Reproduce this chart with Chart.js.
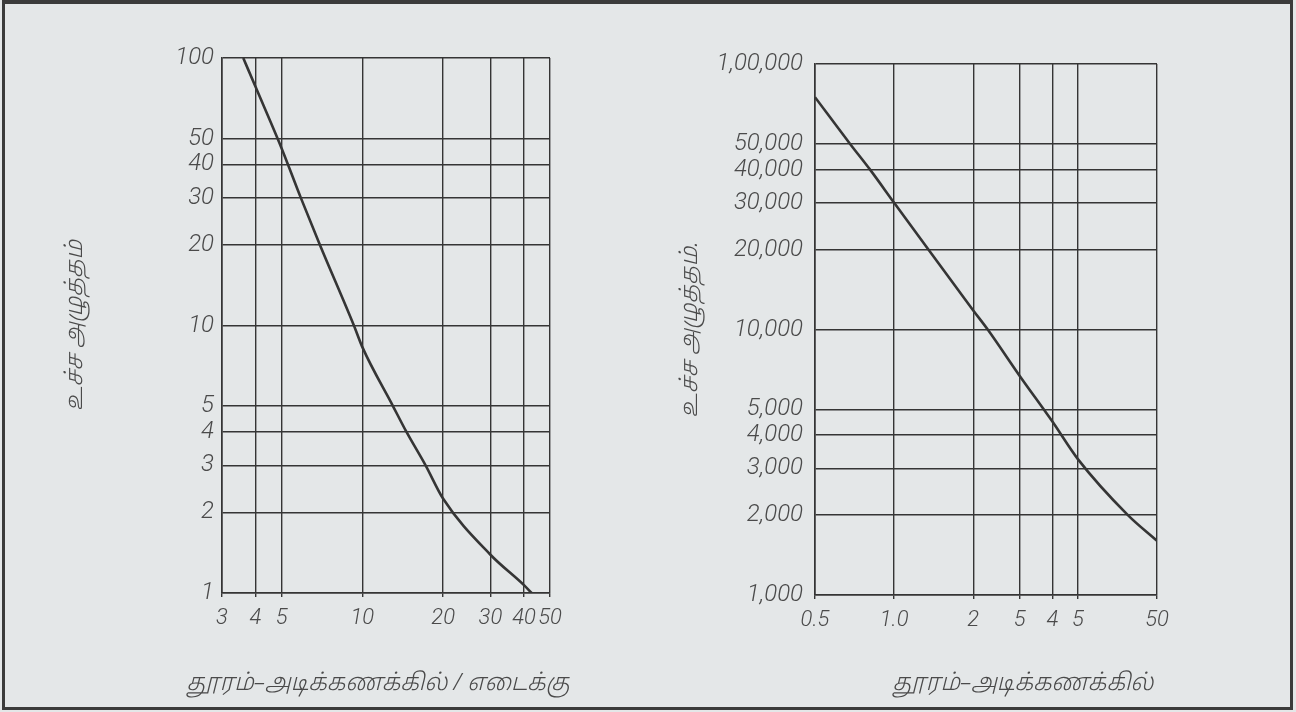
<!DOCTYPE html>
<html>
<head>
<meta charset="utf-8">
<script src="https://cdn.jsdelivr.net/npm/chart.js@4.4.1/dist/chart.umd.min.js"></script>
<style>
  html, body { margin: 0; padding: 0; }
  body { width: 1296px; height: 712px; background: #e4e7e8; position: relative; overflow: hidden; }
  #frame { position: absolute; left: 2px; top: 0; width: 1291px; height: 710px; box-sizing: border-box;
           border: 3px solid #3b3b3b; border-top-width: 4px; }
  canvas { position: absolute; top: 0; }
  #left { left: 0; }
  #right { left: 640px; }
</style>
</head>
<body>
<div id="frame"></div>
<canvas id="left" width="756" height="712"></canvas>
<canvas id="right" width="766" height="712"></canvas>
<script>
// Peak pressure against distance per unit charge (left panel)
const leftDist = [3.6, 4, 5, 5.9, 6.95, 9.3, 10, 13, 14.6, 17.2, 20, 30, 40, 42.7];
const leftPeak = [100, 78, 46, 30, 20, 10, 8.3, 5, 4, 3, 2.25, 1.39, 1.07, 1];
const leftXTicks = [3, 4, 5, 10, 20, 30, 40, 50];
const leftXLabels = ['3', '4', '5', '10', '20', '30', '40', '50'];
const leftYTicks = [1, 2, 3, 4, 5, 10, 20, 30, 40, 50, 100];
const leftYLabels = ['1', '2', '3', '4', '5', '10', '20', '30', '40', '50', '100'];

// Peak pressure against distance in feet (right panel)
const rightDist = [0.5, 0.68, 0.81, 1.0, 1.35, 2, 2.27, 3, 4, 5, 7.75, 10];
const rightPeak = [75000, 50000, 40000, 30000, 20000, 11800, 10000, 6700, 4500, 3250, 2000, 1600];
const rightXTicks = [0.5, 1, 2, 3, 4, 5, 10];
const rightXLabels = ['0.5', '1.0', '2', '5', '4', '5', '50'];
const rightYTicks = [1000, 2000, 3000, 4000, 5000, 10000, 20000, 30000, 40000, 50000, 100000];
const rightYLabels = ['1,000', '2,000', '3,000', '4,000', '5,000', '10,000', '20,000', '30,000', '40,000', '50,000', '1,00,000'];

const yTitle = 'உச்ச அழுத்தம்';
const yTitleRight = 'உச்ச அழுத்தம்.';
const xTitleLeft = 'தூரம்–அடிக்கணக்கில் / எடைக்கு';
const xTitleRight = 'தூரம்–அடிக்கணக்கில்';

const INK = '#353535';
const TEXT = '#4a4a4a';
const yTickFont = { family: "Roboto, 'Liberation Sans', sans-serif", size: 24, style: 'italic', weight: 300 };
const xTickFont = { family: "Roboto, 'Liberation Sans', sans-serif", size: 22, style: 'italic', weight: 300 };
const titleFont = { family: "'Noto Sans', 'Noto Sans Tamil', 'Liberation Sans', sans-serif", size: 23.5, style: 'italic', weight: 300, lineHeight: 1.2 };

function fixedTicks(values) {
  return scale => { scale.ticks = values.map(v => ({ value: v })); };
}

function panel(canvasId, p) {
  return new Chart(document.getElementById(canvasId), {
    type: 'line',
    data: {
      datasets: [{
        data: p.x.map((x, i) => ({ x, y: p.y[i] })),
        borderColor: INK,
        borderWidth: 2.6,
        pointRadius: 0,
        cubicInterpolationMode: 'monotone',
        fill: false
      }]
    },
    options: {
      responsive: false,
      animation: false,
      events: [],
      layout: { padding: { left: 0, top: p.top, right: 0, bottom: 0 } },
      plugins: {
        legend: { display: false },
        tooltip: { enabled: false },
        // distance caption under each panel, centred on the canvas
        title: {
          display: true, position: 'bottom', text: p.xTitle,
          color: TEXT, font: titleFont, padding: { top: 0, bottom: 15 }
        }
      },
      scales: {
        x: {
          type: 'logarithmic',
          min: p.xMin, max: p.xMax,
          afterBuildTicks: fixedTicks(p.xTicks),
          afterFit: s => { s.height = p.xAxisHeight; },
          grid: { color: INK, lineWidth: 1.4, drawTicks: true, tickLength: 4, tickColor: INK },
          border: { display: true, color: INK, width: 1.6 },
          ticks: {
            autoSkip: false, maxRotation: 0, padding: 8,
            color: TEXT, font: xTickFont,
            callback: (v, i) => p.xLabels[i]
          }
        },
        y: {
          type: 'logarithmic',
          min: p.yMin, max: p.yMax,
          afterBuildTicks: fixedTicks(p.yTicks),
          afterFit: s => { s.width = p.yAxisWidth; },
          grid: { color: INK, lineWidth: 1.4, drawTicks: false },
          border: { display: true, color: INK, width: 1.6 },
          ticks: {
            autoSkip: false, padding: p.yTickPad,
            color: TEXT, font: yTickFont,
            callback: (v, i) => p.yLabels[i]
          },
          title: {
            display: true, text: p.yTitle, color: TEXT, font: titleFont,
            padding: { top: p.yTitlePad, bottom: 0 }
          }
        },
        // empty margin on the right of the plot
        gutter: {
          type: 'linear', position: 'right', min: 0, max: 1,
          afterFit: s => { s.width = p.rightGutter; },
          grid: { display: false, drawOnChartArea: false },
          border: { display: false },
          ticks: { display: false }
        }
      }
    }
  });
}

// caption box: 15px padding + 23.5 * 1.2 line height = 43.2px at the bottom
panel('left', {
  x: leftDist, y: leftPeak,
  xMin: 3, xMax: 50, yMin: 1, yMax: 100,
  xTicks: leftXTicks, xLabels: leftXLabels,
  yTicks: leftYTicks, yLabels: leftYLabels,
  top: 58, rightGutter: 206,
  yAxisWidth: 222, xAxisHeight: 75.8,
  yTickPad: 8, yTitlePad: 61,
  xTitle: xTitleLeft,
  yTitle: yTitle
});

panel('right', {
  x: rightDist, y: rightPeak,
  xMin: 0.5, xMax: 10, yMin: 1000, yMax: 100000,
  xTicks: rightXTicks, xLabels: rightXLabels,
  yTicks: rightYTicks, yLabels: rightYLabels,
  top: 64, rightGutter: 249,
  yAxisWidth: 175, xAxisHeight: 73.8,
  yTickPad: 12, yTitlePad: 36,
  xTitle: xTitleRight,
  yTitle: yTitleRight
});
</script>
</body>
</html>
